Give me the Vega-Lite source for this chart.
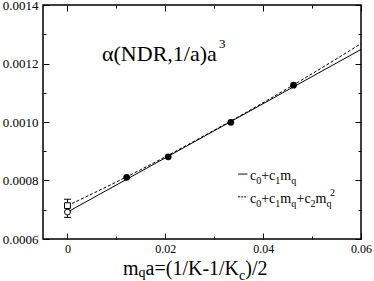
{
  "$schema": "https://vega.github.io/schema/vega-lite/v6.json",
  "width": 318,
  "height": 234,
  "autosize": "none",
  "padding": {"left": 43, "top": 5, "right": 13, "bottom": 42},
  "background": "white",
  "config": {
    "view": {"stroke": "black", "strokeWidth": 1.5},
    "font": "Liberation Serif, Times New Roman, serif",
    "text": {"font": "Liberation Serif, Times New Roman, serif"},
    "axis": {"grid": false, "domain": false, "tickColor": "black", "tickWidth": 1, "labelColor": "black", "labelFont": "Liberation Serif, Times New Roman, serif", "labelFlush": false, "labelOverlap": false, "title": null}
  },
  "datasets": {
    "lin": [{"x": 0, "y": 0.000692}, {"x": 0.06, "y": 0.001248}],
    "quad": [{"x": 0, "y": 0.000714}, {"x": 0.01, "y": 0.000795}, {"x": 0.02, "y": 0.000881}, {"x": 0.03, "y": 0.000972}, {"x": 0.04, "y": 0.001066}, {"x": 0.05, "y": 0.001165}, {"x": 0.06, "y": 0.001268}],
    "pts": [{"x": 0.0121, "y": 0.000811}, {"x": 0.0206, "y": 0.000881}, {"x": 0.0334, "y": 0.000999}, {"x": 0.0462, "y": 0.001126}],
    "ext": [{"fit": "linear", "x": 0, "y": 0.000692, "lo": 0.000674, "hi": 0.00071}, {"fit": "quadratic", "x": 0, "y": 0.000714, "lo": 0.000693, "hi": 0.000736}],
    "leg": [{"fit": "linear", "x": 0.0349, "y": 0.000822}, {"fit": "linear", "x": 0.0368, "y": 0.000822}, {"fit": "quadratic", "x": 0.0349, "y": 0.000744}, {"fit": "quadratic", "x": 0.0368, "y": 0.000744}],
    "title_main": [{"t": "α(NDR,1/a)a", "x": 0.00706, "y": 0.0012085}],
    "title_sup": [{"t": "3", "x": 0.031, "y": 0.001253}],
    "leg_main": [
      {"t": "c", "x": 0.03731, "y": 0.0008034}, {"t": "+c", "x": 0.0396, "y": 0.0008034}, {"t": "m", "x": 0.0435, "y": 0.0008034},
      {"t": "c", "x": 0.03731, "y": 0.0007231}, {"t": "+c", "x": 0.0396, "y": 0.0007231}, {"t": "m", "x": 0.0435, "y": 0.0007231}, {"t": "+c", "x": 0.04682, "y": 0.0007231}, {"t": "m", "x": 0.05072, "y": 0.0007231}
    ],
    "leg_sub": [
      {"t": "0", "x": 0.03858, "y": 0.0007897}, {"t": "1", "x": 0.04248, "y": 0.0007897}, {"t": "q", "x": 0.04573, "y": 0.0007897},
      {"t": "0", "x": 0.03858, "y": 0.0007094}, {"t": "1", "x": 0.04248, "y": 0.0007094}, {"t": "q", "x": 0.04573, "y": 0.0007094}, {"t": "2", "x": 0.0497, "y": 0.0007094}, {"t": "q", "x": 0.05295, "y": 0.0007094}
    ],
    "leg_sup": [{"t": "2", "x": 0.05366, "y": 0.000747}],
    "xt_main": [{"t": "m", "x": 0.01135, "y": 0.0004769}, {"t": "a=(1/K-1/K", "x": 0.01597, "y": 0.0004769}, {"t": ")/2", "x": 0.03635, "y": 0.0004769}],
    "xt_sub": [{"t": "q", "x": 0.01454, "y": 0.0004684}, {"t": "c", "x": 0.03508, "y": 0.0004615}]
  },
  "resolve": {"axis": {"x": "independent", "y": "independent"}},
  "layer": [
    {
      "data": {"name": "lin"},
      "mark": {"type": "line", "color": "black", "strokeWidth": 1},
      "encoding": {
        "x": {"field": "x", "type": "quantitative", "scale": {"domain": [-0.005, 0.06], "nice": false, "zero": false},
          "axis": {"orient": "bottom", "values": [0, 0.02, 0.04, 0.06], "format": ".2~f", "tickSize": -6, "labelPadding": 10, "labelFontSize": 12}},
        "y": {"field": "y", "type": "quantitative", "scale": {"domain": [0.0006, 0.0014], "nice": false, "zero": false},
          "axis": {"orient": "left", "values": [0.0006, 0.0008, 0.001, 0.0012, 0.0014], "format": ".4f", "tickSize": -6, "labelPadding": 11, "labelFontSize": 13}}
      }
    },
    {
      "data": {"name": "quad"},
      "mark": {"type": "line", "color": "black", "strokeWidth": 1, "strokeDash": [3, 2], "interpolate": "monotone"},
      "encoding": {
        "x": {"field": "x", "type": "quantitative", "axis": {"orient": "top", "values": [0, 0.02, 0.04, 0.06], "tickSize": -6, "labels": false}},
        "y": {"field": "y", "type": "quantitative", "axis": {"orient": "right", "values": [0.0006, 0.0008, 0.001, 0.0012, 0.0014], "tickSize": -6, "labels": false}}
      }
    },
    {
      "data": {"name": "pts"},
      "mark": {"type": "point", "shape": "circle", "filled": true, "color": "black", "size": 45, "opacity": 1},
      "encoding": {
        "x": {"field": "x", "type": "quantitative", "axis": {"orient": "bottom", "values": [0.01, 0.03, 0.05], "tickSize": -3, "labels": false}},
        "y": {"field": "y", "type": "quantitative", "axis": {"orient": "left", "values": [0.0007, 0.0009, 0.0011, 0.0013], "tickSize": -3, "labels": false}}
      }
    },
    {
      "data": {"name": "ext"},
      "mark": {"type": "rule", "color": "black", "strokeWidth": 1},
      "encoding": {
        "x": {"field": "x", "type": "quantitative", "axis": {"orient": "top", "values": [0.01, 0.03, 0.05], "tickSize": -3, "labels": false}},
        "y": {"field": "lo", "type": "quantitative", "axis": {"orient": "right", "values": [0.0007, 0.0009, 0.0011, 0.0013], "tickSize": -3, "labels": false}},
        "y2": {"field": "hi"}
      }
    },
    {
      "data": {"name": "ext"},
      "mark": {"type": "tick", "orient": "horizontal", "color": "black", "size": 7, "thickness": 1, "opacity": 1},
      "encoding": {
        "x": {"field": "x", "type": "quantitative", "axis": null},
        "y": {"field": "lo", "type": "quantitative", "axis": null}
      }
    },
    {
      "data": {"name": "ext"},
      "mark": {"type": "tick", "orient": "horizontal", "color": "black", "size": 7, "thickness": 1, "opacity": 1},
      "encoding": {
        "x": {"field": "x", "type": "quantitative", "axis": null},
        "y": {"field": "hi", "type": "quantitative", "axis": null}
      }
    },
    {
      "data": {"name": "ext"},
      "transform": [{"filter": "datum.fit == 'linear'"}],
      "mark": {"type": "point", "shape": "circle", "filled": false, "stroke": "black", "fill": "white", "strokeWidth": 1, "size": 34, "opacity": 1},
      "encoding": {
        "x": {"field": "x", "type": "quantitative", "axis": null},
        "y": {"field": "y", "type": "quantitative", "axis": null}
      }
    },
    {
      "data": {"name": "ext"},
      "transform": [{"filter": "datum.fit == 'quadratic'"}],
      "mark": {"type": "point", "shape": "square", "filled": false, "stroke": "black", "fill": "white", "strokeWidth": 1, "size": 34, "opacity": 1},
      "encoding": {
        "x": {"field": "x", "type": "quantitative", "axis": null},
        "y": {"field": "y", "type": "quantitative", "axis": null}
      }
    },
    {
      "data": {"name": "leg"},
      "mark": {"type": "line", "color": "black", "strokeWidth": 1},
      "encoding": {
        "x": {"field": "x", "type": "quantitative", "axis": null},
        "y": {"field": "y", "type": "quantitative", "axis": null},
        "detail": {"field": "fit"},
        "strokeDash": {"field": "fit", "type": "nominal", "scale": {"domain": ["linear", "quadratic"], "range": [[1, 0], [2, 1]]}, "legend": null}
      }
    },
    {
      "data": {"name": "title_main"},
      "mark": {"type": "text", "align": "left", "baseline": "alphabetic", "font": "Liberation Serif, Times New Roman, serif", "fontSize": 22, "color": "black"},
      "encoding": {"x": {"field": "x", "type": "quantitative", "axis": null}, "y": {"field": "y", "type": "quantitative", "axis": null}, "text": {"field": "t"}}
    },
    {
      "data": {"name": "title_sup"},
      "mark": {"type": "text", "align": "left", "baseline": "alphabetic", "font": "Liberation Serif, Times New Roman, serif", "fontSize": 13, "color": "black"},
      "encoding": {"x": {"field": "x", "type": "quantitative", "axis": null}, "y": {"field": "y", "type": "quantitative", "axis": null}, "text": {"field": "t"}}
    },
    {
      "data": {"name": "leg_main"},
      "mark": {"type": "text", "align": "left", "baseline": "alphabetic", "font": "Liberation Serif, Times New Roman, serif", "fontSize": 14, "color": "black"},
      "encoding": {"x": {"field": "x", "type": "quantitative", "axis": null}, "y": {"field": "y", "type": "quantitative", "axis": null}, "text": {"field": "t"}}
    },
    {
      "data": {"name": "leg_sub"},
      "mark": {"type": "text", "align": "left", "baseline": "alphabetic", "font": "Liberation Serif, Times New Roman, serif", "fontSize": 10, "color": "black"},
      "encoding": {"x": {"field": "x", "type": "quantitative", "axis": null}, "y": {"field": "y", "type": "quantitative", "axis": null}, "text": {"field": "t"}}
    },
    {
      "data": {"name": "leg_sup"},
      "mark": {"type": "text", "align": "left", "baseline": "alphabetic", "font": "Liberation Serif, Times New Roman, serif", "fontSize": 10, "color": "black"},
      "encoding": {"x": {"field": "x", "type": "quantitative", "axis": null}, "y": {"field": "y", "type": "quantitative", "axis": null}, "text": {"field": "t"}}
    },
    {
      "data": {"name": "xt_main"},
      "mark": {"type": "text", "align": "left", "baseline": "alphabetic", "font": "Liberation Serif, Times New Roman, serif", "fontSize": 20, "color": "black"},
      "encoding": {"x": {"field": "x", "type": "quantitative", "axis": null}, "y": {"field": "y", "type": "quantitative", "axis": null}, "text": {"field": "t"}}
    },
    {
      "data": {"name": "xt_sub"},
      "mark": {"type": "text", "align": "left", "baseline": "alphabetic", "font": "Liberation Serif, Times New Roman, serif", "fontSize": 14, "color": "black"},
      "encoding": {"x": {"field": "x", "type": "quantitative", "axis": null}, "y": {"field": "y", "type": "quantitative", "axis": null}, "text": {"field": "t"}}
    }
  ]
}
